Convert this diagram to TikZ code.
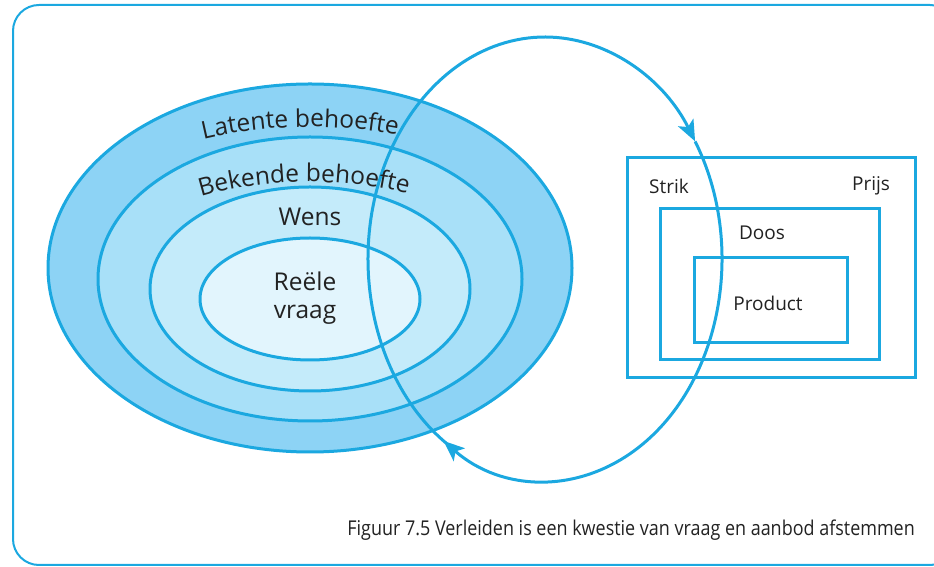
\documentclass[tikz,border=0pt]{standalone}
\usepackage{fontspec}
\setmainfont{Open Sans}
\usetikzlibrary{arrows.meta,decorations.text}

\definecolor{lijn}{RGB}{27,168,224}
\definecolor{ringA}{RGB}{141,211,245}
\definecolor{ringB}{RGB}{168,224,248}
\definecolor{ringC}{RGB}{196,235,250}
\definecolor{ringD}{RGB}{226,245,253}
\definecolor{tekst}{RGB}{34,34,34}

\def\ringfont{\fontsize{24.5}{28}\selectfont}
\def\doosfont{\fontsize{19}{23}\selectfont}

\begin{document}
\begin{tikzpicture}[x=1pt,y=1pt,
	rand/.style={draw=lijn,line width=3pt},
	lus/.style={draw=lijn,line width=3pt,-{Stealth[length=21pt,width=17pt,inset=5pt]}},
	label/.style={text=tekst,inner sep=0pt}]
\useasboundingbox (0,0) rectangle (934,567);

% kader
\draw[lijn,line width=2pt,rounded corners=26pt] (13,2) rectangle (956,562);

% behoeften
\filldraw[rand,fill=ringA] (310,299) ellipse[x radius=262,y radius=184];
\filldraw[rand,fill=ringB] (310,288) ellipse[x radius=212,y radius=142];
\filldraw[rand,fill=ringC] (310,278) ellipse[x radius=160,y radius=102];
\filldraw[rand,fill=ringD] (310,268) ellipse[x radius=110,y radius=61];

% aanbod
\draw[rand] (627,189) rectangle (915,409);
\draw[rand] (660,207) rectangle (879,358);
\draw[rand] (694,224) rectangle (847,309);

% lus
\draw[lus] (545,308) ++(236:177 and 222) arc[start angle=236,end angle=32,x radius=177,y radius=222];
\draw[lus] (545,308) ++(32:177 and 222) arc[start angle=32,end angle=-125,x radius=177,y radius=222];

% teksten langs de ringen
\path[decorate,decoration={text along path,text align=center,text color=tekst,
	text={|\ringfont|Latente behoefte}}]
	(310,299) ++(163.5:262 and 141) arc[start angle=163.5,end angle=23.5,x radius=262,y radius=141];
\path[decorate,decoration={text along path,text align=center,text color=tekst,
	text={|\ringfont|Bekende behoefte}}]
	(310,299) ++(158:193 and 86) arc[start angle=158,end angle=28,x radius=193,y radius=86];

\node[label,font=\ringfont] (wens) at (310,350) {Wens};
\node[label,font=\ringfont,align=center] (vraag) at (305,269) {Reële\\vraag};

\node[label,font=\doosfont] (strik) at (669,381) {Strik};
\node[label,font=\doosfont] (prijs) at (871,381) {Prijs};
\node[label,font=\doosfont] (doos) at (762,334) {Doos};
\node[label,font=\doosfont] (product) at (768,264) {Product};

\node[label,anchor=east,font=\fontsize{20.4}{24}\selectfont] (bijschrift) at (915,37)
	{\scalebox{0.88}[1]{Figuur 7.5 Verleiden is een kwestie van vraag en aanbod afstemmen}};

\end{tikzpicture}
\end{document}
